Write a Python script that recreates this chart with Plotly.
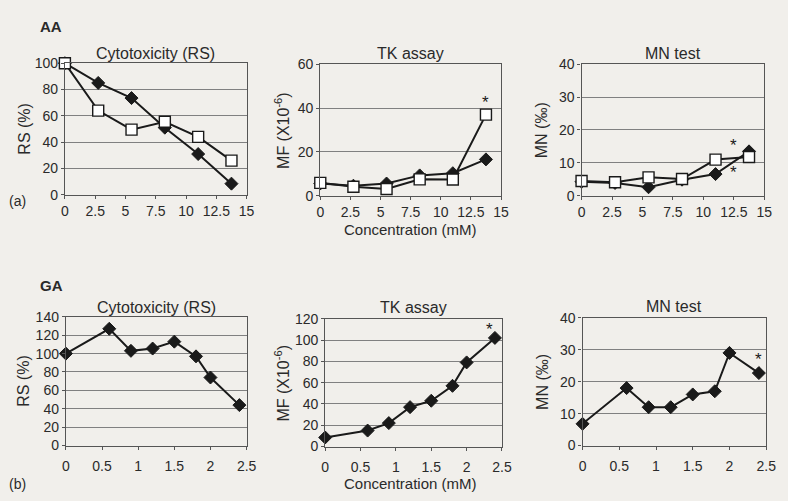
import plotly.graph_objects as go

# ---------------- data ----------------
aa_conc = [0, 2.75, 5.5, 8.25, 11, 13.75]
aa_rs_filled = [100, 85, 73.5, 51, 31, 8.5]
aa_rs_open = [100, 64, 49.5, 55.5, 44, 26]
aa_mf_filled = [5.6, 4.6, 5.6, 9.3, 10.3, 16.6]
aa_mf_open = [5.9, 4.1, 3.1, 7.5, 7.4, 37]
aa_mn_filled = [4.3, 3.9, 2.6, 4.9, 6.6, 13.5]
aa_mn_open = [4.5, 4.1, 5.6, 5.1, 11, 11.8]

ga_conc = [0, 0.6, 0.9, 1.2, 1.5, 1.8, 2.0, 2.4]
ga_rs = [100, 127, 103, 105.5, 113, 97, 74, 44]
ga_mf = [8.5, 15, 22, 37, 43, 57, 79, 102]
ga_mn = [6.8, 18, 12, 12, 16, 17, 29, 22.7]

aa_xticks = [0, 2.5, 5, 7.5, 10, 12.5, 15]
aa_xticklabels = ["0", "2.5", "5", "7.5", "10", "12.5", "15"]
ga_xticks = [0, 0.5, 1, 1.5, 2, 2.5]
ga_xticklabels = ["0", "0.5", "1", "1.5", "2", "2.5"]

# significance stars: (panel, x, y)
stars = [("2", 13.75, 42.5), ("3", 12.5, 15.3), ("3", 12.5, 7.2), ("5", 2.33, 110), ("6", 2.4, 27)]

titles = ["Cytotoxicity (RS)", "TK assay", "MN test", "Cytotoxicity (RS)", "TK assay", "MN test"]
ylabels = ["RS (%)", "MF (X10<sup>-6</sup>)", "MN (‰)", "RS (%)", "MF (X10<sup>-6</sup>)", "MN (‰)"]

# ---------------- layout geometry (pixels) ----------------
W, H = 788, 501
boxes = [  # x0, x1, ytop, ybottom
    (62, 247, 57, 193),
    (322, 506, 58, 194),
    (588, 774, 58, 194),
    (63, 247, 319, 452),
    (327, 507, 321, 453),
    (589, 776, 320, 452),
]
yranges = [(0, 100), (0, 60), (0, 40), (0, 140), (0, 120), (0, 40)]
ydticks = [20, 20, 10, 20, 20, 10]
title_y = [47, 47, 47, 309, 309, 308]
ylabel_x = [20, 283, 548, 20, 283, 548]

FONT = "Liberation Sans, Arial, sans-serif"
TXT = "#2a2a2a"
BG = "#f1efeb"

fig = go.Figure()

line = dict(color="#1a1a1a", width=2)
filled = dict(symbol="diamond", size=10, color="#1a1a1a", line=dict(color="#1a1a1a", width=1))
opensq = dict(symbol="square", size=11, color="white", line=dict(color="#1a1a1a", width=1.4))

series = [
    ("1", aa_conc, aa_rs_filled, filled), ("1", aa_conc, aa_rs_open, opensq),
    ("2", aa_conc, aa_mf_filled, filled), ("2", aa_conc, aa_mf_open, opensq),
    ("3", aa_conc, aa_mn_filled, filled), ("3", aa_conc, aa_mn_open, opensq),
    ("4", ga_conc, ga_rs, filled), ("5", ga_conc, ga_mf, filled), ("6", ga_conc, ga_mn, filled),
]
for k, xs, ys, mk in series:
    fig.add_trace(go.Scatter(x=xs, y=ys, mode="lines+markers", line=line, marker=mk,
                             xaxis="x" + ("" if k == "1" else k), yaxis="y" + ("" if k == "1" else k),
                             showlegend=False, cliponaxis=False))

layout = dict(width=W, height=H, margin=dict(l=0, r=0, t=0, b=0),
              paper_bgcolor=BG, plot_bgcolor=BG, showlegend=False,
              font=dict(family=FONT, color=TXT))
annotations = []
for i, (x0, x1, yt, yb) in enumerate(boxes):
    k = str(i + 1)
    sfx = "" if i == 0 else k
    aa = i < 3
    layout["xaxis" + sfx] = dict(
        domain=[x0 / W, x1 / W], anchor="y" + sfx,
        range=[0, 15] if aa else [0, 2.5],
        tickvals=aa_xticks if aa else ga_xticks,
        ticktext=aa_xticklabels if aa else ga_xticklabels,
        ticks="outside", ticklen=3, tickcolor="#555", showgrid=False, zeroline=False,
        showline=True, linecolor="#555", linewidth=1.2, mirror=True,
        ticklabelstandoff=0 if aa else 5,
        tickfont=dict(size=14, color=TXT, family=FONT), fixedrange=True)
    lo, hi = yranges[i]
    layout["yaxis" + sfx] = dict(
        domain=[1 - yb / H, 1 - yt / H], anchor="x" + sfx,
        range=[lo, hi], dtick=ydticks[i], tick0=0,
        ticks="outside", ticklen=3, tickcolor="#555",
        showgrid=True, gridcolor="#808080", gridwidth=1.2, zeroline=False,
        showline=True, linecolor="#555", linewidth=1.2, mirror=True,
        tickfont=dict(size=14, color=TXT, family=FONT), fixedrange=True)
    annotations.append(dict(text=titles[i], x=(x0 + x1) / 2 / W, y=1 - title_y[i] / H,
                            xref="paper", yref="paper", showarrow=False,
                            xanchor="center", yanchor="middle",
                            font=dict(size=16, color=TXT, family=FONT)))
    annotations.append(dict(text=ylabels[i], x=ylabel_x[i] / W, y=1 - (yt + yb) / 2 / H,
                            xref="paper", yref="paper", showarrow=False, textangle=-90,
                            xanchor="center", yanchor="middle",
                            font=dict(size=16, color=TXT, family=FONT)))

for k, sx, sy in stars:
    annotations.append(dict(text="*", x=sx, y=sy, xref="x" + k, yref="y" + k, showarrow=False,
                            xanchor="center", yanchor="middle",
                            font=dict(size=17, color="#1a1a1a", family=FONT)))

for txt, px, py, bold, size in [("AA", 48, 19, True, 15), ("GA", 48, 287, True, 15),
                                ("(a)", 14, 199, False, 14), ("(b)", 14, 492, False, 14),
                                ("Concentration (mM)", 414, 229, False, 15),
                                ("Concentration (mM)", 414, 491, False, 15)]:
    annotations.append(dict(text=("<b>%s</b>" % txt) if bold else txt, x=px / W, y=1 - py / H,
                            xref="paper", yref="paper", showarrow=False,
                            xanchor="center", yanchor="middle",
                            font=dict(size=size, color=TXT, family=FONT)))

layout["annotations"] = annotations
fig.update_layout(**layout)
fig.write_html("out.html")
